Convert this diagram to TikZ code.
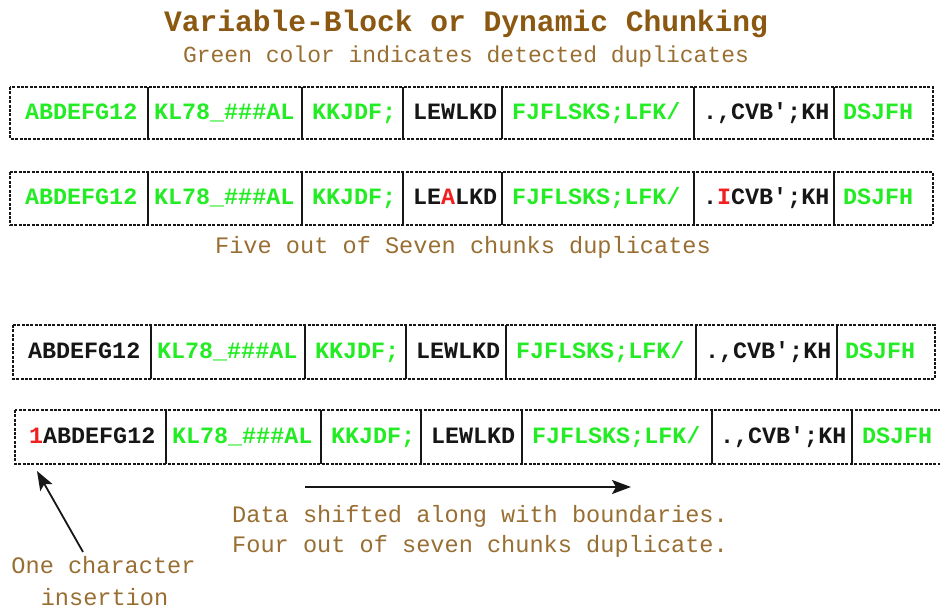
\documentclass[tikz,border=0pt]{standalone}
\usepackage{fontspec}
\setmainfont{Liberation Mono}
\usetikzlibrary{arrows.meta}

\definecolor{dupgreen}{RGB}{36,236,36}
\definecolor{editred}{RGB}{240,32,32}
\definecolor{titlebrown}{RGB}{139,88,18}
\definecolor{notebrown}{RGB}{152,110,50}
\definecolor{ink}{RGB}{22,22,22}

% text helpers for the chunk contents
\newcommand\dupe[1]{\textcolor{dupgreen}{#1}}
\newcommand\edit[1]{\textcolor{editred}{#1}}
\newcommand\sq{\textquotesingle}

% one chunk cell: [left padding], name, left x, right x, top y, bottom y, text
\newcommand\chunk[7][10]{%
  \node[cell, inner xsep=#1pt, text width={(#4-#3-2*#1)*1pt},
        minimum height={(#6-#5)*1pt}] (#2) at (#3,#5) {#7};}

\tikzset{
  cell/.style={anchor=north west, inner ysep=0pt, outer sep=0pt, text=ink, align=left,
    font=\bfseries\fontsize{23.4}{23.4}\selectfont, text height=15.5pt, text depth=3pt},
  frame/.style={draw=ink, line width=2.5pt, dash pattern=on 3pt off 1.4pt},
  divider/.style={draw=ink, line width=1.8pt},
  note/.style={text=notebrown, font=\fontsize{23.6}{23.6}\selectfont, inner sep=0pt},
  headline/.style={text=titlebrown, font=\bfseries\fontsize{29.6}{29.6}\selectfont, inner sep=0pt, anchor=base},
  pointer/.style={draw=ink, line width=1.8pt, -{Stealth[length=19pt,width=14pt,inset=4pt]}},
}

\begin{document}
\begin{tikzpicture}[x=1pt, y=-1pt]
\useasboundingbox (0,0) rectangle (940,610);
\clip (0,0) rectangle (940,610);

% titles
\node[headline] (title) at (466,32) {Variable-Block or Dynamic Chunking};
\node[note, anchor=base, font=\fontsize{23}{23}\selectfont] (subtitle) at (466,63) {Green color indicates detected duplicates};

% row 1: original data
\chunk[15]{a1}{10}{148}{87}{139}{\dupe{ABDEFG12}}
\chunk[6]{a2}{148}{302}{87}{139}{\dupe{KL78\_\#\#\#AL}}
\chunk{a3}{302}{403}{87}{139}{\dupe{KKJDF;}}
\chunk{a4}{403}{502}{87}{139}{LEWLKD}
\chunk{a5}{502}{694}{87}{139}{\dupe{FJFLSKS;LFK/}}
\chunk[9]{a6}{694}{834}{87}{139}{.,CVB\sq;KH}
\chunk[9]{a7}{834}{933}{87}{139}{\dupe{DSJFH}}

% row 2: two characters changed in place
\chunk[15]{b1}{10}{148}{172}{225}{\dupe{ABDEFG12}}
\chunk[6]{b2}{148}{302}{172}{225}{\dupe{KL78\_\#\#\#AL}}
\chunk{b3}{302}{403}{172}{225}{\dupe{KKJDF;}}
\chunk{b4}{403}{502}{172}{225}{LE\edit{A}LKD}
\chunk{b5}{502}{694}{172}{225}{\dupe{FJFLSKS;LFK/}}
\chunk[9]{b6}{694}{834}{172}{225}{.\edit{I}CVB\sq;KH}
\chunk[9]{b7}{834}{933}{172}{225}{\dupe{DSJFH}}

\node[note, anchor=base] (fivenote) at (463,253) {Five out of Seven chunks duplicates};

% row 3: original data
\chunk[15]{c1}{13}{151}{325}{379}{ABDEFG12}
\chunk[6]{c2}{151}{305}{325}{379}{\dupe{KL78\_\#\#\#AL}}
\chunk{c3}{305}{406}{325}{379}{\dupe{KKJDF;}}
\chunk{c4}{406}{506}{325}{379}{LEWLKD}
\chunk{c5}{506}{696}{325}{379}{\dupe{FJFLSKS;LFK/}}
\chunk[9]{c6}{696}{837}{325}{379}{.,CVB\sq;KH}
\chunk[8]{c7}{837}{935}{325}{379}{\dupe{DSJFH}}

% row 4: one character inserted at the front
\chunk[14]{d1}{15}{166}{410}{464}{\edit{1}ABDEFG12}
\chunk[6]{d2}{166}{321}{410}{464}{\dupe{KL78\_\#\#\#AL}}
\chunk{d3}{321}{421}{410}{464}{\dupe{KKJDF;}}
\chunk{d4}{421}{522}{410}{464}{LEWLKD}
\chunk{d5}{522}{712}{410}{464}{\dupe{FJFLSKS;LFK/}}
\chunk[8]{d6}{712}{852}{410}{464}{.,CVB\sq;KH}
\chunk[10]{d7}{852}{950}{410}{464}{\dupe{DSJFH}}

% chunk boundaries and dashed outer frames
\foreach \r in {a,b,c,d}{
  \foreach \i in {1,...,6}{
    \draw[divider] (\r\i.north east) -- (\r\i.south east);
  }
  \draw[frame] (\r1.north west) rectangle (\r7.south east);
}

% shift arrow and notes
\coordinate (shiftFrom) at (305,487);
\coordinate (shiftTo) at (631,487);
\draw[pointer] (shiftFrom) -- (shiftTo);
\node[note, anchor=base west] (shiftnote1) at (232,522) {Data shifted along with boundaries.};
\node[note, anchor=base west] (shiftnote2) at (232,552) {Four out of seven chunks duplicate.};

% insertion pointer and label
\node[note, anchor=base] (insnote1) at (103.5,573) {One character};
\node[note, anchor=base] (insnote2) at (104.5,605) {insertion};
\coordinate (insTail) at (83,552);
\coordinate (insTip) at (37,471);
\draw[pointer] (insTail) -- (insTip);
\end{tikzpicture}
\end{document}
